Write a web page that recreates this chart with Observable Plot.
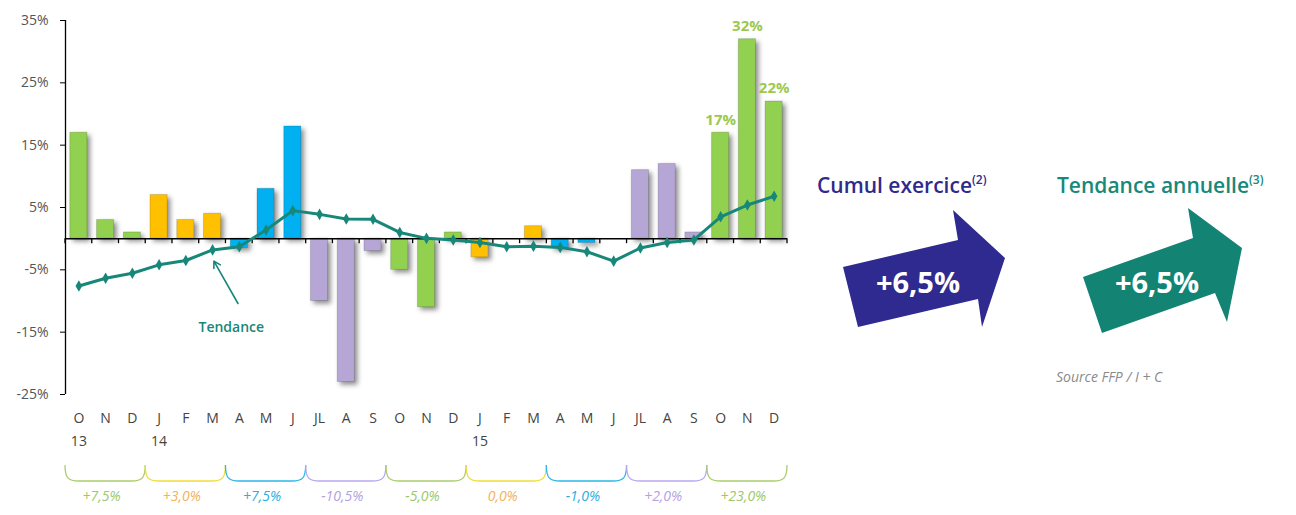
<!DOCTYPE html>
<html>
<head>
<meta charset="utf-8">
<script src="https://cdn.jsdelivr.net/npm/d3@7"></script>
<script src="https://cdn.jsdelivr.net/npm/@observablehq/plot@0.6"></script>
<style>
  body { margin: 0; background: #fff; font-family: "Open Sans", sans-serif; }
  #wrap { position: relative; width: 1296px; height: 515px; overflow: hidden; }
  #chart { position: absolute; left: 0; top: 0; }
  #side { position: absolute; left: 0; top: 0; pointer-events: none; }
  #chart g[aria-label="rect"] rect { filter: drop-shadow(3px 3px 2.5px rgba(0,0,0,0.45)); }
</style>
</head>
<body>
<div id="wrap">
  <div id="chart"></div>
  <svg id="side" width="1296" height="515" font-family="'Open Sans', sans-serif">
    <text x="817" y="193" font-size="21" font-weight="600" fill="#2F2A8C">Cumul exercice<tspan font-size="12" dy="-9">(2)</tspan></text>
    <polygon points="843,267 958,240 953,210 1005,258 982,327 978,299 858,327" fill="#2F2A8F"/>
    <text x="918" y="293" font-size="29" font-weight="700" fill="#fff" text-anchor="middle">+6,5%</text>
    <text x="1057" y="193" font-size="21" font-weight="600" fill="#17887A">Tendance annuelle<tspan font-size="12" dy="-9">(3)</tspan></text>
    <polygon points="1083,277 1193,238 1188,208 1242,248 1227,322 1215,293 1102,333" fill="#138474"/>
    <text x="1157" y="293" font-size="29" font-weight="700" fill="#fff" text-anchor="middle">+6,5%</text>
    <text x="1056" y="382" font-size="14" font-style="italic" fill="#8a8a8a">Source FFP / I + C</text>
  </svg>
</div>
<script>
// ---- data ----
const months = ["O","N","D","J","F","M","A","M","J","JL","A","S","O","N","D","J","F","M","A","M","J","JL","A","S","O","N","D"];
const monthly = [17, 3, 1, 7, 3, 4, -1.5, 8, 18, -10, -23, -2, -5, -11, 1, -3, 0, 2, -1.5, -0.7, 0, 11, 12, 1, 17, 32, 22];
const trend = [-7.6, -6.35, -5.55, -4.2, -3.5, -1.8, -1.3, 1.4, 4.5, 3.9, 3.15, 3.1, 1.0, 0.05, -0.2, -0.6, -1.3, -1.2, -1.4, -2.1, -3.6, -1.5, -0.6, -0.2, 3.5, 5.4, 6.8];
const yearLabels = ["13", "14", "15"];
const yearStartMonth = [0, 3, 15];
const quarterLabels = ["+7,5%", "+3,0%", "+7,5%", "-10,5%", "-5,0%", "0,0%", "-1,0%", "+2,0%", "+23,0%"];
const yTicks = [35, 25, 15, 5, -5, -15, -25];
const labelledMonths = [24, 25, 26];
const trendNote = {text: "Tendance", x: 5.7, y: -14.3, fromX: 5.95, fromY: -10.4, toX: 5.05, toY: -3.6};

// ---- styles ----
const seasons = ["q4", "q1", "q2", "q3"];
const barColor = {q4: "#92D050", q1: "#FFC000", q2: "#00B0F0", q3: "#B6A6D6"};
const braceColor = {q4: "#A9CD6C", q1: "#EEDD3A", q2: "#2DB6E6", q3: "#B9A8F0"};
const quarterTextColor = {q4: "#9CC86A", q1: "#F2B25A", q2: "#2AAEE0", q3: "#B2A2E2"};
const teal = "#17877A";
const seasonOf = i => seasons[Math.floor(i / 3) % 4];

// quarter braces under the month labels, positioned with the x scale
const braces = (index, scales, values, dimensions) => {
  const g = d3.create("svg:g").attr("fill", "none").attr("stroke-width", 1.3);
  const yTop = dimensions.height - dimensions.marginBottom + 71;
  const yBot = yTop + 16;
  quarterLabels.forEach((_, k) => {
    const x0 = scales.x(3 * k - 0.5), x1 = scales.x(3 * k + 2.5);
    g.append("path")
      .attr("stroke", braceColor[seasons[k % 4]])
      .attr("d", `M${x0},${yTop} C${x0},${yBot - 3} ${x0 + 3},${yBot} ${x0 + 14},${yBot} L${x1 - 14},${yBot} C${x1 - 3},${yBot} ${x1},${yBot - 3} ${x1},${yTop}`);
  });
  return g.node();
};

// small tick marks hanging below the zero line at month boundaries
const zeroTicks = (index, scales) => {
  const g = d3.create("svg:g").attr("stroke", "#000").attr("stroke-width", 1.3);
  const y0 = scales.y(0);
  d3.range(months.length + 1).forEach(k => {
    const x = scales.x(k - 0.5);
    g.append("line").attr("x1", x).attr("x2", x).attr("y1", y0).attr("y2", y0 + 5);
  });
  return g.node();
};

const chart = Plot.plot({
  width: 800,
  height: 515,
  marginLeft: 65,
  marginRight: 13,
  marginTop: 20,
  marginBottom: 121,
  x: {type: "linear", domain: [-0.5, 26.5], axis: null},
  y: {domain: [-25, 35], axis: null},
  color: {type: "identity"},
  style: {fontFamily: "'Open Sans', sans-serif", background: "transparent", overflow: "visible"},
  marks: [
    Plot.rectY(monthly, {
      x1: (d, i) => i - 0.32, x2: (d, i) => i + 0.32, y1: 0, y2: d => d,
      fill: (d, i) => barColor[seasonOf(i)], stroke: "rgba(0,0,0,0.15)", strokeWidth: 1
    }),
    Plot.ruleY([0], {stroke: "#000", strokeWidth: 1.5}),
    zeroTicks,
    Plot.ruleX([-0.5], {y1: -25, y2: 35, stroke: "#000", strokeWidth: 1.3}),
    Plot.axisY(yTicks, {tickFormat: d => d + "%", tickSize: 5, tickPadding: 12, fontSize: 14, color: "#555", stroke: "#000"}),
    Plot.axisX(d3.range(months.length), {tickFormat: i => months[i], tickSize: 0, tickPadding: 19, fontSize: 14, fill: "#444", label: null}),
    Plot.text(yearLabels, {x: (d, i) => yearStartMonth[i], text: d => d, frameAnchor: "bottom", dy: 51, fontSize: 14, fill: "#444"}),
    braces,
    Plot.text(quarterLabels, {x: (d, i) => 3 * i + 1, text: d => d, frameAnchor: "bottom", dy: 106, dx: -4, fontSize: 14, fontStyle: "italic", fill: (d, i) => quarterTextColor[seasons[i % 4]]}),
    Plot.line(trend, {x: (d, i) => i, y: d => d, stroke: teal, strokeWidth: 3}),
    Plot.dot(trend, {x: (d, i) => i, y: d => d, symbol: "diamond", r: 3.5, fill: teal}),
    Plot.arrow([trendNote], {x1: "fromX", y1: "fromY", x2: "toX", y2: "toY", stroke: teal, strokeWidth: 1.6, headLength: 7, bend: 0}),
    Plot.text([trendNote], {x: "x", y: "y", text: "text", fill: teal, fontSize: 14, fontWeight: 600}),
    Plot.text(labelledMonths, {x: i => i, y: i => monthly[i], text: i => monthly[i] + "%", dy: -13, fill: "#9CC850", fontSize: 15, fontWeight: 700})
  ]
});
document.getElementById("chart").appendChild(chart);
</script>
</body>
</html>
